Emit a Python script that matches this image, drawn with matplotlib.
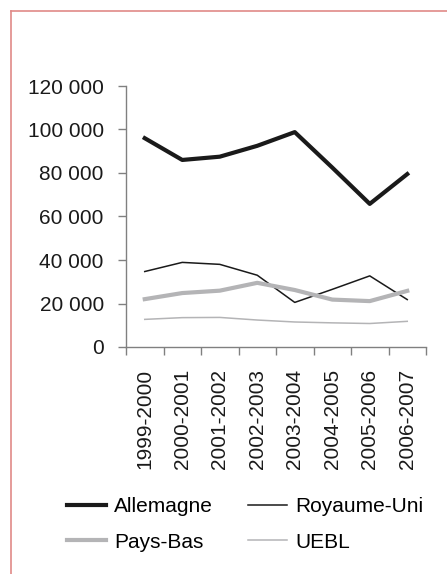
import matplotlib.pyplot as plt
from matplotlib.lines import Line2D

plt.rcParams['font.family'] = ['Liberation Sans', 'DejaVu Sans']

# data
periods = ['1999-2000', '2000-2001', '2001-2002', '2002-2003',
           '2003-2004', '2004-2005', '2005-2006', '2006-2007']
allemagne = [96000, 86000, 87500, 92500, 98800, 82500, 65800, 79500]
royaume_uni = [34700, 38900, 38000, 33000, 20500, 26500, 32700, 21800]
pays_bas = [22000, 24800, 25900, 29500, 26200, 21800, 21100, 25800]
uebl = [12700, 13500, 13600, 12400, 11500, 11100, 10800, 11800]
yticks = [0, 20000, 40000, 60000, 80000, 100000, 120000]

W, H = 447, 574
fig = plt.figure(figsize=(W / 100, H / 100), dpi=100)
ax = fig.add_axes([126 / W, 1 - 347 / H, (426 - 126) / W, (347 - 86) / H])

x = [i + 0.5 for i in range(len(periods))]
l_all, = ax.plot(x, allemagne, color='#1a1a1a', lw=3.0, label='Allemagne')
l_ru, = ax.plot(x, royaume_uni, color='#1a1a1a', lw=1.1, label='Royaume-Uni')
l_pb, = ax.plot(x, pays_bas, color='#b4b4b6', lw=3.0, label='Pays-Bas')
l_ue, = ax.plot(x, uebl, color='#b4b4b6', lw=1.1, label='UEBL')

ax.set_xlim(0, len(periods))
ax.set_ylim(0, 120000)
ax.set_yticks(yticks)
ax.set_yticklabels([f'{v:,}'.replace(',', ' ') for v in yticks])
ax.set_xticks(range(len(periods) + 1))
ax.set_xticklabels([])
ax.set_xticks(x, minor=True)
ax.set_xticklabels(periods, minor=True, rotation=90)
ax.tick_params(axis='x', which='minor', length=0, pad=16)
ax.tick_params(axis='x', which='major', length=6, width=1, color='#808080', direction='out')
ax.tick_params(axis='y', length=6, width=1, color='#808080', pad=10)
ax.tick_params(labelsize=15, labelcolor='#1a1a1a')
ax.tick_params(axis='x', which='minor', labelsize=15, labelcolor='#1a1a1a')
for s in ['top', 'right']:
    ax.spines[s].set_visible(False)
for s in ['left', 'bottom']:
    ax.spines[s].set_color('#808080')
    ax.spines[s].set_linewidth(1)

# column-first fill: order so rows read Allemagne/Royaume-Uni, Pays-Bas/UEBL
handles = [l_all, l_pb, l_ru, l_ue]
fig.legend(handles, [h.get_label() for h in handles],
           loc='upper left', bbox_to_anchor=(67 / W, 1 - 497 / H), ncol=2,
           frameon=False, fontsize=15, handlelength=1.85, handletextpad=0.4,
           columnspacing=1.7, labelspacing=0.8, borderpad=0, borderaxespad=0)

# red frame (left and top edges)
fig.add_artist(Line2D([10.5 / W, 10.5 / W], [0, 1 - 11 / H], transform=fig.transFigure,
                      color='#e08a88', lw=1.2))
fig.add_artist(Line2D([10.5 / W, 1], [1 - 11 / H, 1 - 11 / H], transform=fig.transFigure,
                      color='#e08a88', lw=1.2))

fig.savefig('out.png', dpi=100)
